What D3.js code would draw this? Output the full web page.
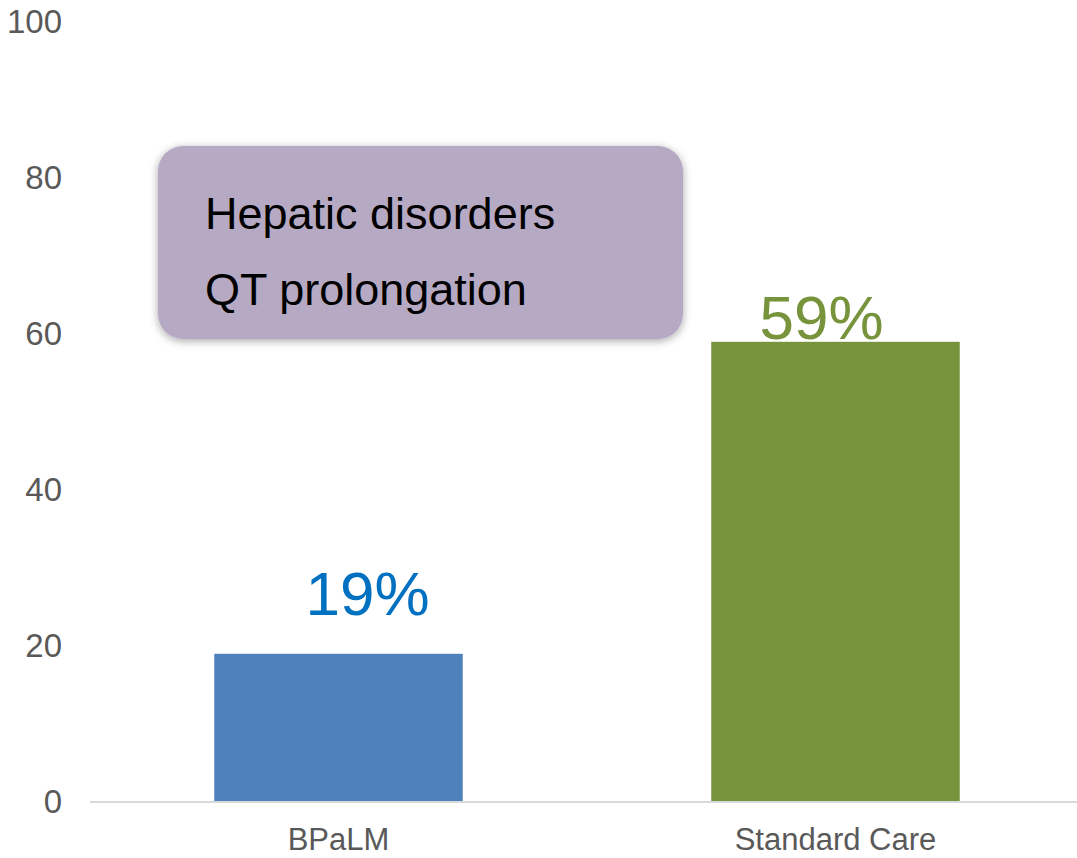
<!DOCTYPE html>
<html>
<head>
<meta charset="utf-8">
<script src="https://cdn.jsdelivr.net/npm/d3@7"></script>
<style>
  html, body { margin: 0; padding: 0; background: #fff; }
  svg { display: block; font-family: "Liberation Sans", Arial, sans-serif; }
</style>
</head>
<body>
<svg id="chart" width="1077" height="858"></svg>
<script>
// Share of patients with the adverse events, by regimen
const categories = ["BPaLM", "Standard Care"];
const values = [19, 59];
const valueLabels = ["19%", "59%"];
const barColors = ["#4F81BD", "#77933C"];
const labelColors = ["#0070C0", "#77933C"];
const yTicks = [0, 20, 40, 60, 80, 100];
const noteLines = ["Hepatic disorders", "QT prolongation"];

const svg = d3.select("#chart");

const x = d3.scaleBand()
  .domain(categories)
  .range([90, 1084])
  .paddingInner(0.5)
  .paddingOuter(0.25);

const y = d3.scaleLinear()
  .domain([0, 100])
  .range([802, 22]);

// y axis labels (no axis line, no ticks)
const yAxis = svg.append("g")
  .attr("transform", "translate(62,0)")
  .call(d3.axisLeft(y).tickValues(yTicks).tickSize(0).tickPadding(0));
yAxis.select(".domain").remove();
yAxis.selectAll("text")
  .attr("fill", "#595959")
  .style("font-size", "33px")
  .style("font-family", "'Liberation Sans', Arial, sans-serif");

// bars
svg.append("g").selectAll("rect")
  .data(values)
  .join("rect")
  .attr("x", (d, i) => x(categories[i]))
  .attr("width", x.bandwidth())
  .attr("y", d => y(d))
  .attr("height", d => y(0) - y(d))
  .attr("fill", (d, i) => barColors[i]);

// baseline + category labels
const xAxis = svg.append("g")
  .attr("transform", `translate(0,${y(0)})`)
  .call(d3.axisBottom(x).tickSize(0).tickPadding(0));
xAxis.select(".domain")
  .attr("d", "M90,0H1077")
  .attr("stroke", "#D9D9D9")
  .attr("stroke-width", 2);
xAxis.selectAll("text")
  .attr("fill", "#595959")
  .attr("y", 48)
  .attr("dy", null)
  .style("font-size", "31px")
  .style("font-family", "'Liberation Sans', Arial, sans-serif");

// value labels above bars
const labelShift = [29, -14];
const labelGap = [39, 3];
svg.append("g").selectAll("text")
  .data(values)
  .join("text")
  .attr("x", (d, i) => x(categories[i]) + x.bandwidth() / 2 + labelShift[i])
  .attr("y", (d, i) => y(d) - labelGap[i])
  .attr("text-anchor", "middle")
  .attr("fill", (d, i) => labelColors[i])
  .style("font-size", "62px")
  .text((d, i) => valueLabels[i]);

// callout box listing the events
const defs = svg.append("defs");
const shadow = defs.append("filter")
  .attr("id", "soft-shadow")
  .attr("x", "-10%").attr("y", "-20%")
  .attr("width", "120%").attr("height", "140%");
shadow.append("feDropShadow")
  .attr("dx", 0).attr("dy", 2)
  .attr("stdDeviation", 4)
  .attr("flood-color", "#000")
  .attr("flood-opacity", 0.35);

const note = svg.append("g");
note.append("rect")
  .attr("x", 158).attr("y", 146)
  .attr("width", 525).attr("height", 193)
  .attr("rx", 25).attr("ry", 25)
  .attr("fill", "#B6A9C3")
  .attr("filter", "url(#soft-shadow)");
note.selectAll("text")
  .data(noteLines)
  .join("text")
  .attr("x", 205)
  .attr("y", (d, i) => 229 + i * 76)
  .attr("fill", "#000")
  .style("font-size", "45px")
  .text(d => d);
</script>
</body>
</html>
